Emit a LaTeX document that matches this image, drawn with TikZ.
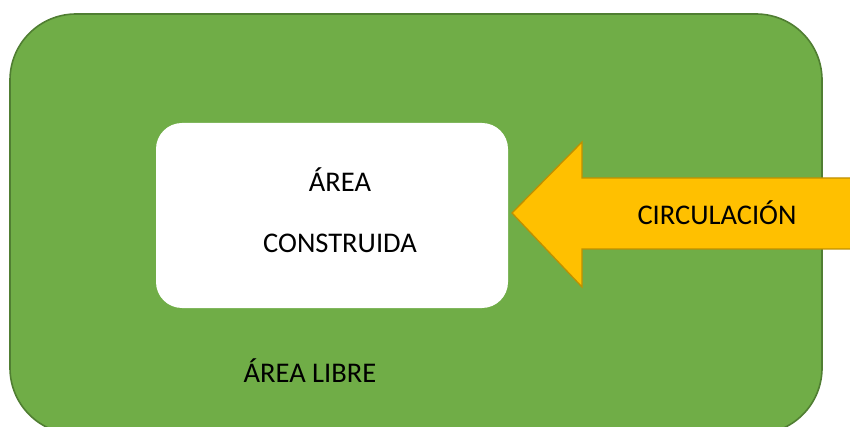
\documentclass[tikz,border=0pt]{standalone}
\usepackage{fontspec}
\setmainfont{Carlito}
\definecolor{lotgreen}{HTML}{70AD47}
\definecolor{lotgreenline}{HTML}{507E32}
\definecolor{arrowyellow}{HTML}{FFC000}
\definecolor{arrowline}{HTML}{BF9000}
\tikzset{
  lbl/.style={font=\fontsize{28.5}{34}\selectfont, text=black, inner sep=0pt, anchor=base},
}
\begin{document}
\begin{tikzpicture}[x=1pt,y=-1pt]
\useasboundingbox (0,0) rectangle (850,427);
\clip (0,0) rectangle (850,427);
% lot
\draw[fill=lotgreen, draw=lotgreenline, line width=1.6pt, rounded corners=66pt]
  (10,14) rectangle (822,434);
% built area
\node[draw=none, fill=white, rounded corners=26pt, minimum width=352pt, minimum height=185pt, inner sep=0pt]
  (built) at (332,215.5) {};
% arrow
\draw[fill=arrowyellow, draw=arrowline, line width=1.3pt, line join=miter]
  (512,213) -- (582,142) -- (582,178) -- (870,178) -- (870,249) -- (582,249) -- (582,287) -- cycle;
\coordinate (tip) at (512,213);
% labels
\node[lbl] (t1) at (340,192) {ÁREA};
\node[lbl] (t2) at (340,253) {CONSTRUIDA};
\node[lbl] (circ) at (717,225) {CIRCULACIÓN};
\node[lbl] (libre) at (310,382) {ÁREA LIBRE};
\end{tikzpicture}
\end{document}
